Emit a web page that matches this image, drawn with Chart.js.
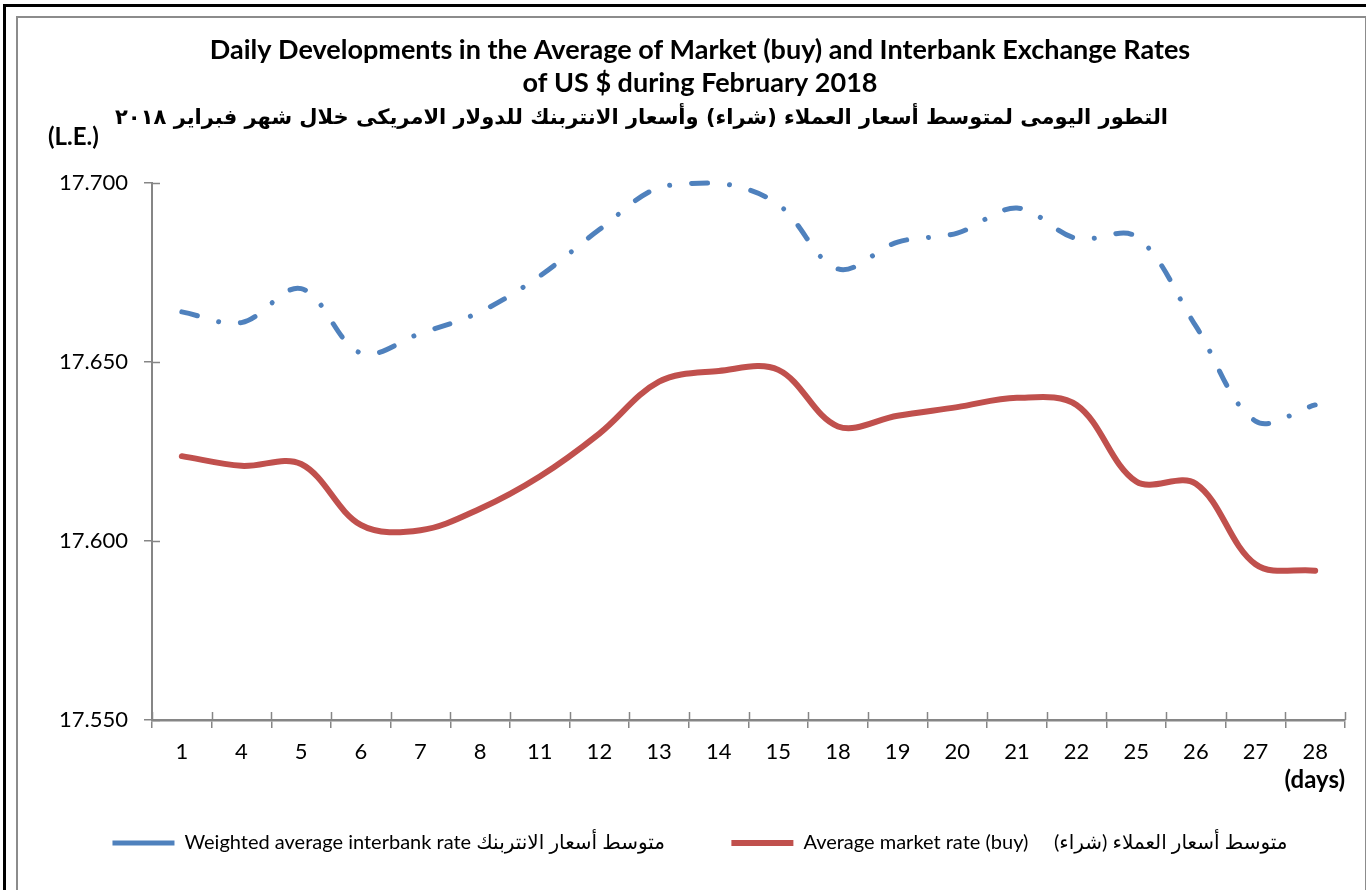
<!DOCTYPE html>
<html><head><meta charset="utf-8">
<script src="https://cdn.jsdelivr.net/npm/chart.js@4.4.1/dist/chart.umd.min.js"></script>
<style>
html,body{margin:0;padding:0;background:#fff;overflow:hidden}
#wrap{position:relative;width:1366px;height:890px;overflow:hidden}
canvas{position:absolute;left:0;top:0}
.f1{position:absolute;left:3px;top:4px;width:1400px;height:900px;border-left:3px solid #000;border-top:3px solid #000;pointer-events:none}
.f2{position:absolute;left:16px;top:16px;width:1347px;height:900px;border:2px solid #8c8c8c;border-bottom:none;pointer-events:none}
</style></head>
<body><div id="wrap"><canvas id="c" width="1366" height="890"></canvas><div class="f1"></div><div class="f2"></div></div>
<script>
const categories = ['1','4','5','6','7','8','11','12','13','14','15','18','19','20','21','22','25','26','27','28'];
const interbankRate = [17.664, 17.661, 17.6705, 17.6525, 17.658, 17.664, 17.674, 17.687, 17.6988, 17.700, 17.694, 17.676, 17.6835, 17.686, 17.693, 17.6845, 17.685, 17.660, 17.6335, 17.638];
const marketRate = [17.6237, 17.621, 17.6215, 17.6045, 17.603, 17.609, 17.618, 17.630, 17.6445, 17.6475, 17.6478, 17.632, 17.635, 17.6374, 17.640, 17.638, 17.6166, 17.616, 17.5935, 17.5917];
const yTickValues = [17.55, 17.60, 17.65, 17.70];
const titleLines = ['Daily Developments in the Average of Market (buy) and Interbank Exchange Rates', 'of US $ during February 2018'];
const arabicTitle = 'التطور اليومى لمتوسط أسعار العملاء (شراء) وأسعار الانتربنك للدولار الامريكى خلال شهر فبراير ٢٠١٨';
const seriesLabels = ['Weighted average interbank rate متوسط أسعار الانتربنك', 'Average market rate (buy)     متوسط أسعار العملاء (شراء)'];
const yUnit = '(L.E.)';
const xUnit = '(days)';

const AXIS = '#868686';
const FONT = "Lato, 'DejaVu Sans', sans-serif";

const crossTicks = {
  id: 'crossTicks',
  afterDraw(chart) {
    const {ctx, chartArea, scales: {x, y}} = chart;
    ctx.save();
    ctx.strokeStyle = AXIS;
    ctx.lineWidth = 1.5;
    ctx.beginPath();
    y.ticks.forEach(t => {
      const py = Math.round(y.getPixelForValue(t.value)) + 0.5;
      ctx.moveTo(chartArea.left, py);
      ctx.lineTo(chartArea.left + 8, py);
    });
    for (let i = 0; i <= categories.length; i++) {
      const px = Math.round(x.getPixelForValue(i - 0.5)) + 0.5;
      ctx.moveTo(px, chartArea.bottom);
      ctx.lineTo(px, chartArea.bottom - 8);
    }
    ctx.stroke();
    ctx.fillStyle = '#000';
    ctx.font = "bold 24px " + FONT;
    ctx.textAlign = 'left';
    ctx.textBaseline = 'middle';
    ctx.fillText(yUnit, chartArea.left - 104, chartArea.top - 46);
    ctx.restore();
  }
};

new Chart(document.getElementById('c'), {
  type: 'line',
  data: {
    labels: categories,
    datasets: [
      {
        label: seriesLabels[0] + '           ',
        data: interbankRate,
        borderColor: '#4F81BD',
        backgroundColor: '#4F81BD',
        borderWidth: 5,
        borderDash: [16, 22, 0.01, 22],
        borderCapStyle: 'round',
        pointRadius: 0,
        tension: 0.35,
        clip: false
      },
      {
        label: seriesLabels[1],
        data: marketRate,
        borderColor: '#C0504D',
        backgroundColor: '#C0504D',
        borderWidth: 6,
        borderCapStyle: 'round',
        pointRadius: 0,
        tension: 0.35,
        clip: false
      }
    ]
  },
  options: {
    responsive: false,
    animation: false,
    devicePixelRatio: 1,
    layout: {padding: {left: 55, right: 21, top: 17, bottom: 27}},
    plugins: {
      title: {
        display: true,
        text: titleLines,
        color: '#000',
        font: {family: FONT, size: 27, weight: 'bold', lineHeight: 33 / 27},
        padding: {top: 17, bottom: 0}
      },
      subtitle: {
        display: true,
        text: arabicTitle + '                ',
        color: '#000',
        font: {family: "'DejaVu Sans', sans-serif", size: 21, weight: 'bold', lineHeight: 1.2},
        padding: {top: 6.4, bottom: 51.4}
      },
      legend: {
        position: 'bottom',
        labels: {
          color: '#000',
          font: {family: FONT, size: 20},
          usePointStyle: true,
          pointStyle: 'line',
          pointStyleWidth: 62,
          padding: 10
        }
      },
      tooltip: {enabled: false}
    },
    scales: {
      x: {
        offset: true,
        grid: {display: true, drawOnChartArea: false, drawTicks: true, tickLength: 8, color: AXIS, lineWidth: 1.5, offset: true},
        border: {display: true, color: AXIS, width: 2.5},
        ticks: {color: '#000', font: {family: FONT, size: 22}, padding: 11, maxRotation: 0, autoSkip: false},
        title: {display: true, text: xUnit, align: 'end', color: '#000', font: {family: FONT, size: 24, weight: 'bold', lineHeight: 1.2}, padding: {top: 0, bottom: 28.6}},
        afterFit(s) { s.height = 103; }
      },
      y: {
        min: 17.55,
        max: 17.70,
        afterBuildTicks(s) { s.ticks = yTickValues.map(v => ({value: v})); },
        grid: {display: true, drawOnChartArea: false, drawTicks: true, tickLength: 8, color: AXIS, lineWidth: 1.5},
        border: {display: true, color: AXIS, width: 2},
        ticks: {color: '#000', font: {family: FONT, size: 22}, padding: 16, callback: v => Number(v).toFixed(3)},
        afterFit(s) { s.width = 97; }
      }
    }
  },
  plugins: [crossTicks]
});
</script>
</body></html>
